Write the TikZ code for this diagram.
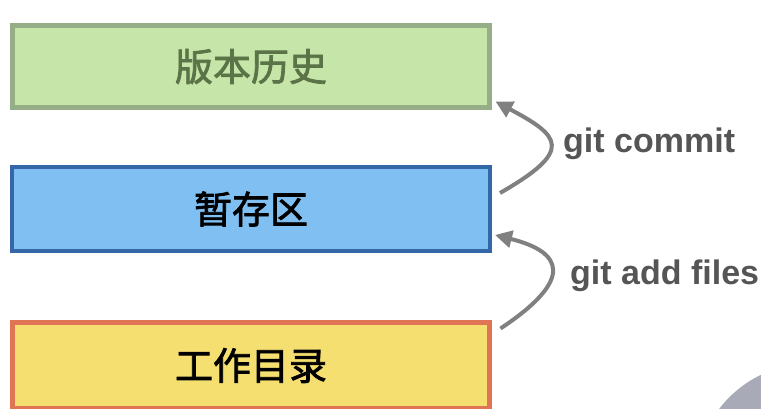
\documentclass[tikz,border=0pt]{standalone}
\usepackage{fontspec}
\setmainfont{Liberation Sans}
\newfontfamily\cjk{Noto Sans CJK SC}[FakeBold=2]
\usetikzlibrary{arrows.meta}
\definecolor{histfill}{HTML}{C6E5A8}
\definecolor{histline}{HTML}{96AE88}
\definecolor{histtext}{HTML}{5B7447}
\definecolor{stagefill}{HTML}{7FBFF2}
\definecolor{stageline}{HTML}{3467A8}
\definecolor{workfill}{HTML}{F5DF70}
\definecolor{workline}{HTML}{E07556}
\definecolor{arrowgray}{HTML}{808080}
\definecolor{labelgray}{HTML}{555555}
\definecolor{circgray}{HTML}{A9AAB8}
\tikzset{
  box/.style={draw, rectangle, inner sep=0pt, minimum width=477pt,
    font=\cjk\fontsize{38}{42}\selectfont},
  arr/.style={draw=arrowgray, line width=4pt,
    -{Triangle[length=17pt,width=17pt]}},
  gitlabel/.style={anchor=base west, inner sep=0pt, text=labelgray,
    font=\bfseries\fontsize{34}{38}\selectfont},
}
\begin{document}
\begin{tikzpicture}[x=1pt,y=-1pt]
\useasboundingbox (0,0) rectangle (761,408);
\clip (0,0) rectangle (761,408);
\fill[white] (0,0) rectangle (761,408);
\fill[circgray] (810.6,478.6) circle[radius=115pt];
\node[box, fill=histfill, draw=histline, line width=5pt, minimum height=82pt,
  text=histtext] (hist) at (251,66.5) {\raisebox{-1pt}{版本历史}};
\node[box, fill=stagefill, draw=stageline, line width=4pt, minimum width=478pt,
  minimum height=84pt] (stage) at (251,209) {暂存区};
\node[box, fill=workfill, draw=workline, line width=5pt, minimum height=86pt]
  (work) at (251,365.5) {\raisebox{1pt}{工作目录}};
\coordinate (c1s) at ([shift={(8,28)}]stage.north east);
\coordinate (c1e) at ([shift={(3.5,-8.5)}]hist.south east);
\coordinate (c2s) at ([shift={(8.5,8.5)}]work.north east);
\coordinate (c2e) at ([shift={(3,-18)}]stage.south east);
\draw[arr] (c1s) .. controls (575,150) and (560,136) .. (c1e);
\draw[arr] (c2s) .. controls (575,279) and (563,252) .. (c2e);
\node[gitlabel] (lcommit) at (563,152) {git commit};
\node[gitlabel] (ladd) at (570,284) {git add files};
\end{tikzpicture}
\end{document}
